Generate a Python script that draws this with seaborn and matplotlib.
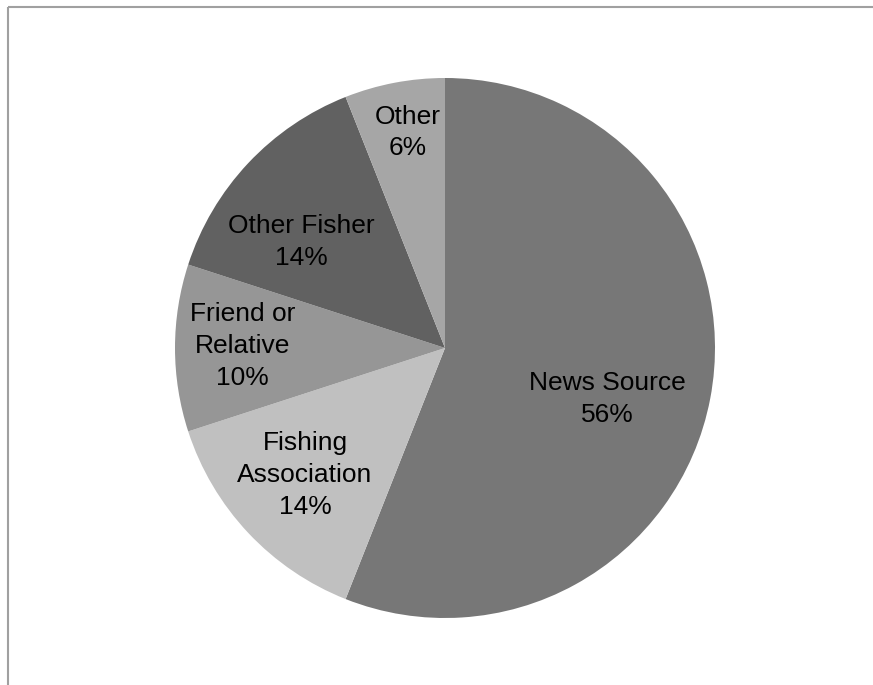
import numpy as np
import matplotlib
matplotlib.use("Agg")
import matplotlib.pyplot as plt
from matplotlib.lines import Line2D
import seaborn as sns

# Source of information
categories = ["News Source", "Fishing Association", "Friend or Relative", "Other Fisher", "Other"]
label_text = ["News Source", "Fishing\nAssociation", "Friend or\nRelative", "Other Fisher", "Other"]
shares = [56, 14, 10, 14, 6]
slice_colors = ["#777777", "#c0c0c0", "#969696", "#616161", "#a6a6a6"]
label_radius = [0.63, 0.70, 0.75, 0.66, 0.81]
label_turn = [-6.7, -1.0, -0.6, 6.8, -1.0]

sns.set_theme(style="white")
plt.rcParams["font.family"] = ["Liberation Sans", "DejaVu Sans"]

W, H, DPI = 873, 685, 100
fig = plt.figure(figsize=(W / DPI, H / DPI), dpi=DPI)
fig.patch.set_facecolor("white")

cx, cy, R = 445, 348, 270
ax = fig.add_axes([(cx - R) / W, (H - cy - R) / H, 2 * R / W, 2 * R / H])
ax.axis("off")

ax.pie(shares, colors=slice_colors, startangle=90, counterclock=False,
       radius=1, center=(0, 0), frame=False,
       wedgeprops=dict(linewidth=0, edgecolor="none"))
ax.set_xlim(-1, 1)
ax.set_ylim(-1, 1)
ax.set_aspect("auto")

total = float(sum(shares))
start = 90.0
for txt, val, rr, turn in zip(label_text, shares, label_radius, label_turn):
    sweep = 360.0 * val / total
    mid = np.deg2rad(start - sweep / 2 + turn)
    start -= sweep
    ax.text(rr * np.cos(mid), rr * np.sin(mid), f"{txt}\n{val}%",
            ha="center", va="center", fontsize=19, color="black",
            linespacing=1.42)

# Chart-area border (left and top edges)
bx = 7.5 / W
by = 1 - 6.5 / H
fig.add_artist(Line2D([bx, bx], [0, by], transform=fig.transFigure,
                      color="#a0a0a0", linewidth=1.5, solid_capstyle="butt"))
fig.add_artist(Line2D([bx, 1], [by, by], transform=fig.transFigure,
                      color="#a0a0a0", linewidth=1.5, solid_capstyle="butt"))

fig.savefig("out.png", dpi=DPI, facecolor="white")
